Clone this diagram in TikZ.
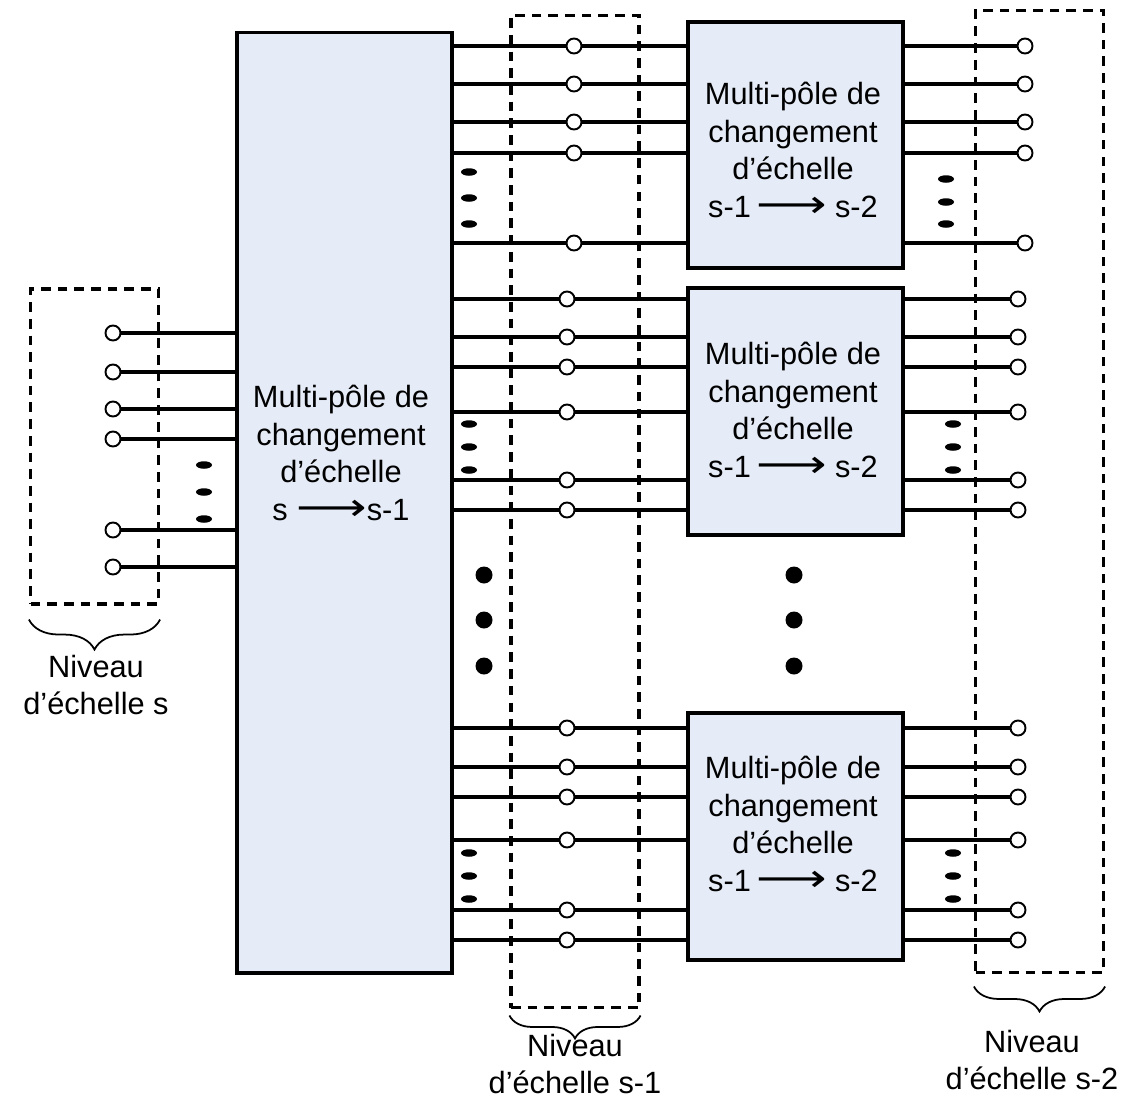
\documentclass[tikz,border=0pt]{standalone}
\usepackage{fontspec}
\setmainfont{Liberation Sans}
\newfontfamily\arrowfont{DejaVu Sans}
\usetikzlibrary{positioning,shapes.geometric,decorations.pathreplacing}
\definecolor{ink}{HTML}{000000}
\definecolor{polefill}{HTML}{E6ECF7}
\newcommand{\larrow}{\scalebox{1.6}[1.25]{\arrowfont\char"27F6}}

\begin{document}
\begin{tikzpicture}[x=0.02cm, y=-0.02cm,
    pole/.style={draw=ink, fill=polefill, line width=1.8pt,
                 minimum width=4.3cm, inner sep=0pt},
    poletext/.style={align=center, font=\fontsize{17.5}{21.4}\selectfont},
    level/.style={draw=ink, line width=1.8pt, dash pattern=on 5.5pt off 4pt,
                  minimum width=2.56cm, inner sep=0pt},
    wire/.style={draw=ink, line width=1.8pt},
    term/.style={circle, draw=ink, fill=white, line width=1.1pt,
                 minimum size=0.3cm, inner sep=0pt},
    edot/.style={ellipse, fill=ink, minimum width=0.32cm,
                 minimum height=0.15cm, inner sep=0pt},
    bdot/.style={circle, fill=ink, minimum size=0.34cm, inner sep=0pt},
    lbrace/.style={decorate, decoration={brace, mirror, amplitude=#1},
                   line width=1pt},
    lvltext/.style={align=center, inner sep=0pt,
                    font=\fontsize{17.5}{21.4}\selectfont},
  ]
  \useasboundingbox (0,0) rectangle (1129,1102);

  % dashed scale levels
  \node[level, minimum height=6.3cm] (lvs) at (94.5,446.5) {};
  \node[level, minimum height=19.86cm] (lvs1) at (575,511.5) {};
  \node[level, minimum height=19.26cm] (lvs2) at (1039.5,491.5) {};

  % multipoles
  \node[pole, minimum height=18.82cm] (mp) at (344.5,502.5) {};
  \node[pole, minimum height=4.92cm] (mp1) at (795.5,145) {};
  \node[pole, minimum height=4.94cm] (mp2) at (795.5,411.5) {};
  \node[pole, minimum height=4.94cm] (mp3) at (795.5,836.5) {};
  \node[poletext] (tmp) at (341,453)
    {Multi-pôle de\\changement\\d’échelle\\s \larrow s-1};
  \foreach \i/\y in {1/150,2/410,3/824}
    \node[poletext] (tmp\i) at (793,\y)
      {Multi-pôle de\\changement\\d’échelle\\s-1\,\larrow\ s-2};

  % level s
  \foreach \y [count=\k] in {333,372,409,439,530,567} {
    \node[term] (a\k) at (113,\y) {};
    \draw[wire] (a\k) -- (a\k -| mp.west);
  }
  \foreach \y [count=\k] in {465,492,519}
    \node[edot] (da\k) at (204,\y) {};

  % levels s-1 and s-2
  \foreach \blk/\cx/\rx/\rows in {1/574/1025/{46,84,122,153,243},
      2/567/1018/{299,337,367,412,480,510},
      3/567/1018/{728,767,797,840,910,940}} {
    \foreach \y [count=\k] in \rows {
      \node[term] (b\blk-\k) at (\cx,\y) {};
      \node[term] (c\blk-\k) at (\rx,\y) {};
      \draw[wire] (b\blk-\k -| mp.east) -- (b\blk-\k) -- (b\blk-\k -| mp\blk.west);
      \draw[wire] (c\blk-\k -| mp\blk.east) -- (c\blk-\k);
    }
  }

  % small ellipses
  \foreach \y [count=\k] in {172,198,224} \node[edot] (db1-\k) at (469,\y) {};
  \foreach \y [count=\k] in {179,202,224} \node[edot] (dc1-\k) at (946,\y) {};
  \foreach \y [count=\k] in {424,447,470} {
    \node[edot] (db2-\k) at (469,\y) {};
    \node[edot] (dc2-\k) at (953,\y) {};
  }
  \foreach \y [count=\k] in {853,876,899} {
    \node[edot] (db3-\k) at (469,\y) {};
    \node[edot] (dc3-\k) at (953,\y) {};
  }

  % big dots between blocks
  \foreach \y [count=\k] in {575,620,666} {
    \node[bdot] (bl\k) at (484,\y) {};
    \node[bdot] (br\k) at (794,\y) {};
  }

  % braces and level names
  \draw[lbrace=0.6cm] ([yshift=-0.28cm]lvs.south west) -- ([yshift=-0.28cm]lvs.south east);
  \draw[lbrace=0.46cm] ([yshift=-0.12cm]lvs1.south west) -- ([yshift=-0.12cm]lvs1.south east);
  \draw[lbrace=0.5cm] ([yshift=-0.24cm]lvs2.south west) -- ([yshift=-0.24cm]lvs2.south east);
  \node[lvltext] (ls) at (96,685) {Niveau\\d’échelle s};
  \node[lvltext] (ls1) at (575,1064) {Niveau\\d’échelle s-1};
  \node[lvltext] (ls2) at (1032,1060) {Niveau\\d’échelle s-2};
\end{tikzpicture}
\end{document}
